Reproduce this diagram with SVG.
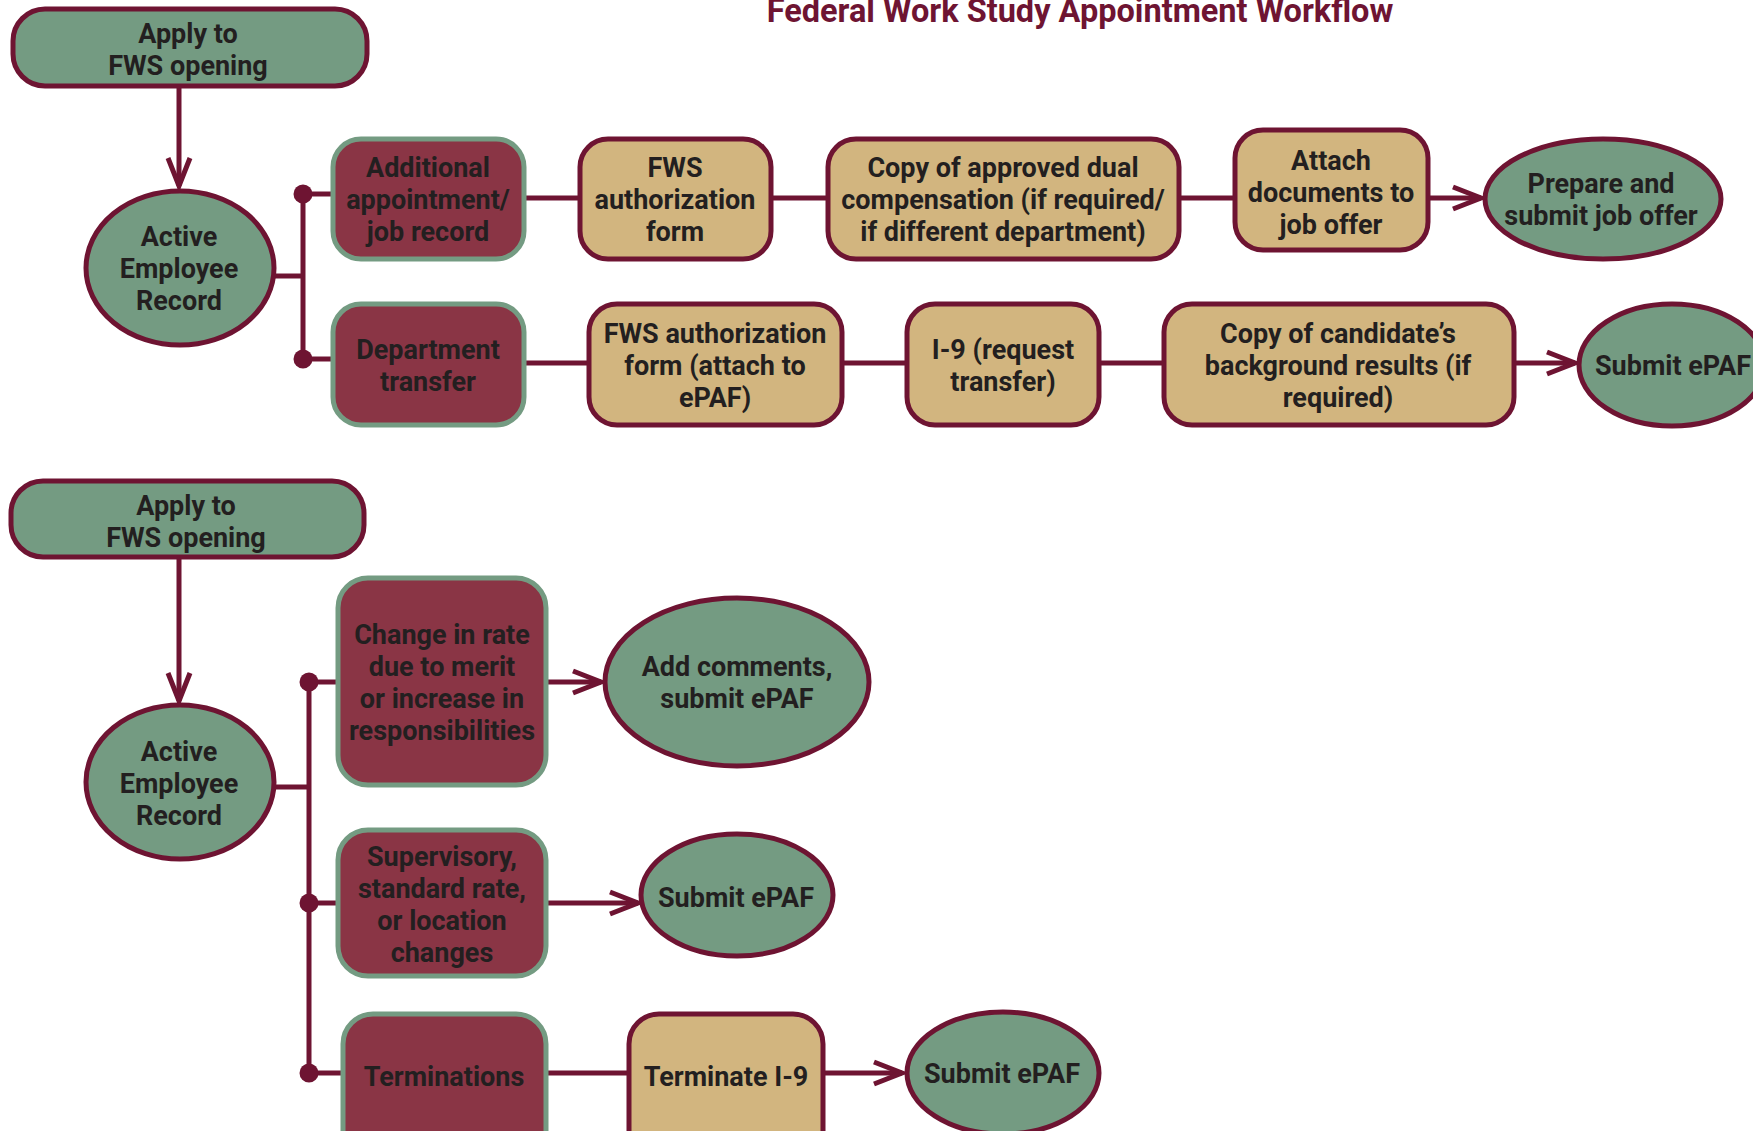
<svg xmlns="http://www.w3.org/2000/svg" width="1753" height="1131" viewBox="0 0 1753 1131">
<style>
.t{font-family:Roboto,"Liberation Sans",Arial,sans-serif;font-weight:700;font-size:27px;fill:#231f20;text-anchor:middle}
.title{font-family:Roboto,"Liberation Sans",Arial,sans-serif;font-weight:700;font-size:32.5px;fill:#6e1432;text-anchor:middle}
.g{fill:#749b82;stroke:#6e1432;stroke-width:5}
.r{fill:#8a3545;stroke:#749b82;stroke-width:5}
.y{fill:#d2b57f;stroke:#6e1432;stroke-width:5}
.c{stroke:#6e1432;stroke-width:5;fill:none}
.d{fill:#6e1432}
</style>
<defs>
<marker id="arr" markerWidth="40" markerHeight="30" refX="32" refY="15" orient="auto" markerUnits="userSpaceOnUse" viewBox="0 0 40 30">
<path d="M4,4 L32,15 L4,26" fill="none" stroke="#6e1432" stroke-width="5" stroke-linejoin="miter"/>
</marker>
</defs>
<rect width="1753" height="1131" fill="#ffffff"/>
<text class="title" x="1080" y="22">Federal Work Study Appointment Workflow</text>

<g id="connectors">
<line class="c" x1="179" y1="86" x2="179" y2="186" marker-end="url(#arr)"/>
<line class="c" x1="273" y1="276" x2="303" y2="276"/>
<line class="c" x1="303" y1="194" x2="303" y2="359"/>
<line class="c" x1="303" y1="194" x2="333" y2="194"/>
<line class="c" x1="303" y1="359" x2="333" y2="359"/>
<circle class="d" cx="303" cy="194" r="9.5"/>
<circle class="d" cx="303" cy="359" r="9.5"/>
<line class="c" x1="524" y1="198" x2="580" y2="198"/>
<line class="c" x1="771" y1="198" x2="828" y2="198"/>
<line class="c" x1="1179" y1="198" x2="1235" y2="198"/>
<line class="c" x1="1428" y1="198" x2="1481" y2="198" marker-end="url(#arr)"/>
<line class="c" x1="524" y1="363" x2="589" y2="363"/>
<line class="c" x1="842" y1="363" x2="907" y2="363"/>
<line class="c" x1="1099" y1="363" x2="1164" y2="363"/>
<line class="c" x1="1514" y1="363" x2="1575" y2="363" marker-end="url(#arr)"/>

<line class="c" x1="179" y1="557" x2="179" y2="701" marker-end="url(#arr)"/>
<line class="c" x1="273" y1="787" x2="309" y2="787"/>
<line class="c" x1="309" y1="682" x2="309" y2="1073"/>
<line class="c" x1="309" y1="682" x2="338" y2="682"/>
<line class="c" x1="309" y1="903" x2="338" y2="903"/>
<line class="c" x1="309" y1="1073" x2="343" y2="1073"/>
<circle class="d" cx="309" cy="682" r="9.5"/>
<circle class="d" cx="309" cy="903" r="9.5"/>
<circle class="d" cx="309" cy="1073" r="9.5"/>
<line class="c" x1="546" y1="682" x2="601" y2="682" marker-end="url(#arr)"/>
<line class="c" x1="546" y1="903" x2="638" y2="903" marker-end="url(#arr)"/>
<line class="c" x1="546" y1="1073" x2="629" y2="1073"/>
<line class="c" x1="822" y1="1073" x2="902" y2="1073" marker-end="url(#arr)"/>
</g>

<g id="apply1"><rect class="g" x="13" y="9" width="354" height="77" rx="32"/>
<text class="t"><tspan x="188" y="43">Apply to</tspan><tspan x="188" y="75">FWS opening</tspan></text></g>
<g id="active1"><ellipse class="g" cx="180" cy="268" rx="94" ry="77"/>
<text class="t"><tspan x="179" y="246">Active</tspan><tspan x="179" y="278">Employee</tspan><tspan x="179" y="310">Record</tspan></text></g>
<g id="additional"><rect class="r" x="333" y="139" width="191" height="120" rx="28"/>
<text class="t"><tspan x="428" y="177">Additional</tspan><tspan x="428" y="209">appointment/</tspan><tspan x="428" y="241">job record</tspan></text></g>
<g id="fws1"><rect class="y" x="580" y="139" width="191" height="120" rx="28"/>
<text class="t"><tspan x="675" y="177">FWS</tspan><tspan x="675" y="209">authorization</tspan><tspan x="675" y="241">form</tspan></text></g>
<g id="dual"><rect class="y" x="828" y="139" width="351" height="120" rx="28"/>
<text class="t"><tspan x="1003" y="177">Copy of approved dual</tspan><tspan x="1003" y="209">compensation (if required/</tspan><tspan x="1003" y="241">if different department)</tspan></text></g>
<g id="attach"><rect class="y" x="1235" y="130" width="193" height="120" rx="28"/>
<text class="t"><tspan x="1331" y="170">Attach</tspan><tspan x="1331" y="202">documents to</tspan><tspan x="1331" y="234">job offer</tspan></text></g>
<g id="prepare"><ellipse class="g" cx="1603" cy="199" rx="118" ry="60"/>
<text class="t"><tspan x="1601" y="193">Prepare and</tspan><tspan x="1601" y="225">submit job offer</tspan></text></g>

<g id="dept"><rect class="r" x="333" y="304" width="191" height="121" rx="28"/>
<text class="t"><tspan x="428" y="359">Department</tspan><tspan x="428" y="391">transfer</tspan></text></g>
<g id="fws2"><rect class="y" x="589" y="304" width="253" height="121" rx="28"/>
<text class="t"><tspan x="715" y="343">FWS authorization</tspan><tspan x="715" y="375">form (attach to</tspan><tspan x="715" y="407">ePAF)</tspan></text></g>
<g id="i9req"><rect class="y" x="907" y="304" width="192" height="121" rx="28"/>
<text class="t"><tspan x="1003" y="359">I-9 (request</tspan><tspan x="1003" y="391">transfer)</tspan></text></g>
<g id="candidate"><rect class="y" x="1164" y="304" width="350" height="121" rx="28"/>
<text class="t"><tspan x="1338" y="343">Copy of candidate’s</tspan><tspan x="1338" y="375">background results (if</tspan><tspan x="1338" y="407">required)</tspan></text></g>
<g id="submit1"><ellipse class="g" cx="1672" cy="365" rx="93" ry="61"/>
<text class="t" x="1673" y="375">Submit ePAF</text></g>

<g id="apply2"><rect class="g" x="11" y="481" width="353" height="76" rx="32"/>
<text class="t"><tspan x="186" y="515">Apply to</tspan><tspan x="186" y="547">FWS opening</tspan></text></g>
<g id="active2"><ellipse class="g" cx="180" cy="782" rx="94" ry="77"/>
<text class="t"><tspan x="179" y="761">Active</tspan><tspan x="179" y="793">Employee</tspan><tspan x="179" y="825">Record</tspan></text></g>
<g id="change"><rect class="r" x="338" y="578" width="208" height="207" rx="30"/>
<text class="t"><tspan x="442" y="644">Change in rate</tspan><tspan x="442" y="676">due to merit</tspan><tspan x="442" y="708">or increase in</tspan><tspan x="442" y="740">responsibilities</tspan></text></g>
<g id="addcomments"><ellipse class="g" cx="737" cy="682" rx="132" ry="84"/>
<text class="t"><tspan x="737" y="676">Add comments,</tspan><tspan x="737" y="708">submit ePAF</tspan></text></g>
<g id="supervisory"><rect class="r" x="338" y="830" width="208" height="146" rx="30"/>
<text class="t"><tspan x="442" y="866">Supervisory,</tspan><tspan x="442" y="898">standard rate,</tspan><tspan x="442" y="930">or location</tspan><tspan x="442" y="962">changes</tspan></text></g>
<g id="submit2"><ellipse class="g" cx="737" cy="895" rx="96" ry="61"/>
<text class="t" x="736" y="907">Submit ePAF</text></g>
<g id="terminations"><rect class="r" x="343" y="1014" width="203" height="150" rx="30"/>
<text class="t" x="444" y="1086">Terminations</text></g>
<g id="terminatei9"><rect class="y" x="629" y="1014" width="194" height="150" rx="30"/>
<text class="t" x="726" y="1086">Terminate I-9</text></g>
<g id="submit3"><ellipse class="g" cx="1003" cy="1073" rx="96" ry="61"/>
<text class="t" x="1002" y="1083">Submit ePAF</text></g>
</svg>
